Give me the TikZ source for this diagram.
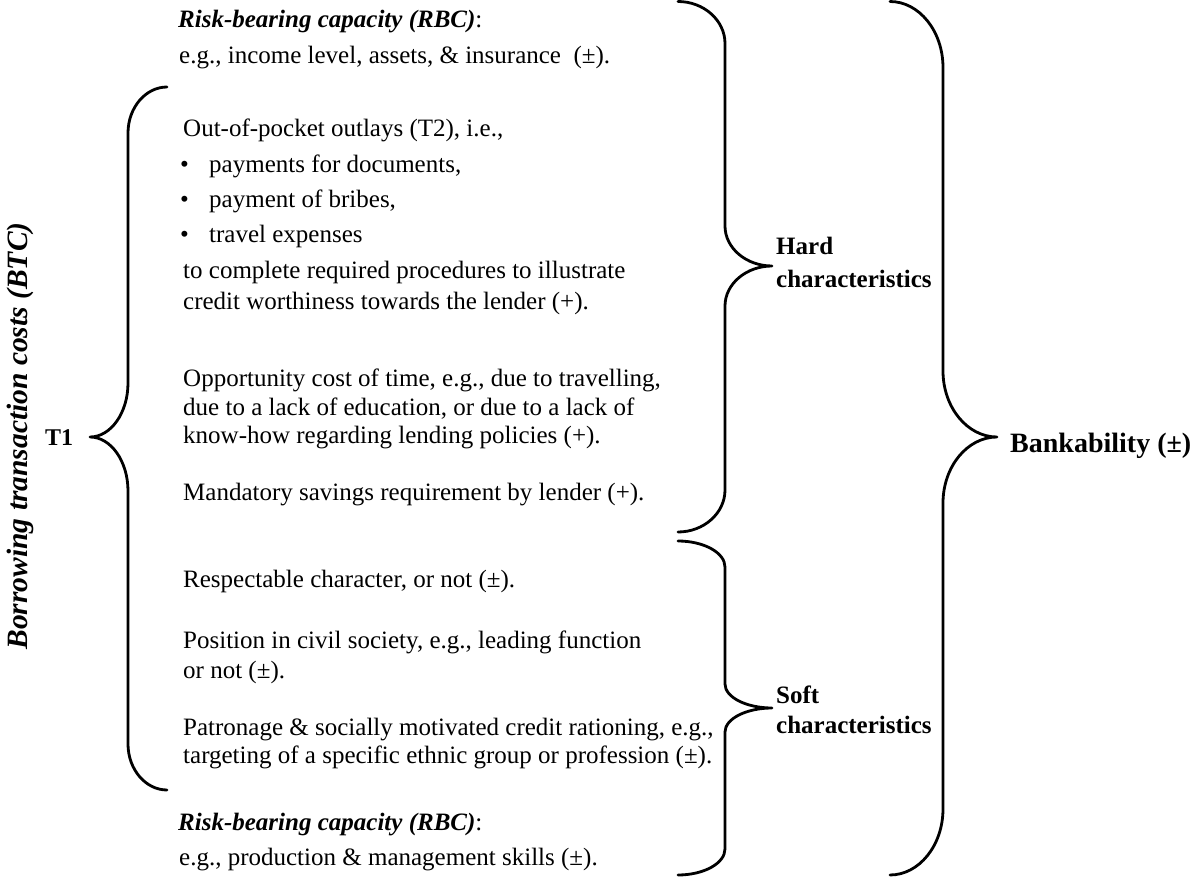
\documentclass[tikz,border=0pt]{standalone}
\usepackage{fontspec}
\setmainfont{Liberation Serif}

% curly brace: end x, stem x, tip x, top y, tip y, bottom y, end bend, tip bend
\newcommand{\curlybrace}[8]{%
  \draw[brace] (#1,#4) .. controls ({#1+0.55*(#2-#1)},#4) and (#2,{#4+0.45*#7}) .. (#2,{#4+#7})
    -- (#2,{#5-#8}) .. controls (#2,{#5-0.45*#8}) and ({#3-0.55*(#3-#2)},#5) .. (#3,#5)
    .. controls ({#3-0.55*(#3-#2)},#5) and (#2,{#5+0.45*#8}) .. (#2,{#5+#8})
    -- (#2,{#6-#7}) .. controls (#2,{#6-0.45*#7}) and ({#1+0.55*(#2-#1)},#6) .. (#1,#6);}

\tikzset{
  txt/.style={anchor=base west, inner sep=0pt, font=\fontsize{25}{30}\selectfont},
  hdr/.style={txt, font=\fontsize{25}{30}\selectfont\bfseries},
  brace/.style={line width=2.8pt, line cap=round, line join=round},
}

\begin{document}
\begin{tikzpicture}[x=1pt, y=-1pt]
    \useasboundingbox (0,0) rectangle (1192,877);

    % left side
    \node[rotate=90, inner sep=0pt, font=\fontsize{29.5}{34}\selectfont\bfseries\itshape] (btc) at (20,436) {Borrowing transaction costs (BTC)};
    \node[txt, font=\fontsize{24}{28}\selectfont\bfseries] (tone) at (45,445) {T1};

    % hard characteristics
    \node[txt] (rbcA) at (178,28) {\textbf{\textit{Risk-bearing capacity (RBC)}}:};
    \node[txt] (incA) at (179,64) {e.g., income level, assets, \& insurance~~(±).};
    \node[txt] (oop) at (183,137) {Out-of-pocket outlays (T2), i.e.,};
    \foreach \yy/\t [count=\i] in {173/{payments for documents,}, 208/{payment of bribes,}, 243/{travel expenses}} {
        \node[txt] (dot\i) at (180,\yy) {\textbullet};
        \node[txt] (item\i) at (209,\yy) {\t};
    }
    \node[txt] (procA) at (183,279) {to complete required procedures to illustrate};
    \node[txt] (procB) at (183,310) {credit worthiness towards the lender (+).};
    \node[txt] (oppA) at (183,387) {Opportunity cost of time, e.g., due to travelling,};
    \node[txt] (oppB) at (183,415) {due to a lack of education, or due to a lack of};
    \node[txt] (oppC) at (183,443) {know-how regarding lending policies (+).};
    \node[txt] (mand) at (183,500) {Mandatory savings requirement by lender (+).};

    % soft characteristics
    \node[txt] (resp) at (183,587) {Respectable character, or not (±).};
    \node[txt] (posA) at (183,648) {Position in civil society, e.g., leading function};
    \node[txt] (posB) at (183,678) {or not (±).};
    \node[txt] (patA) at (183,735) {Patronage \& socially motivated credit rationing, e.g.,};
    \node[txt] (patB) at (183,763) {targeting of a specific ethnic group or profession (±).};
    \node[txt] (rbcB) at (178,830) {\textbf{\textit{Risk-bearing capacity (RBC)}}:};
    \node[txt] (incB) at (179,865) {e.g., production \& management skills (±).};

    % right side labels
    \node[hdr] (hardA) at (776,255) {Hard};
    \node[hdr] (hardB) at (776,288) {characteristics};
    \node[hdr] (softA) at (776,703) {Soft};
    \node[hdr] (softB) at (776,733) {characteristics};
    \node[txt, font=\fontsize{28}{32}\selectfont\bfseries] (bank) at (1010,452) {Bankability (±)};

    % braces
    \curlybrace{167}{128}{90}{87}{437}{790}{46}{54}
    \curlybrace{678}{725}{772}{1.5}{266}{532}{42}{40}
    \curlybrace{678}{725}{772}{541}{708}{875}{26}{24}
    \curlybrace{890}{943}{997}{1.5}{437}{875}{66}{66}
\end{tikzpicture}
\end{document}
